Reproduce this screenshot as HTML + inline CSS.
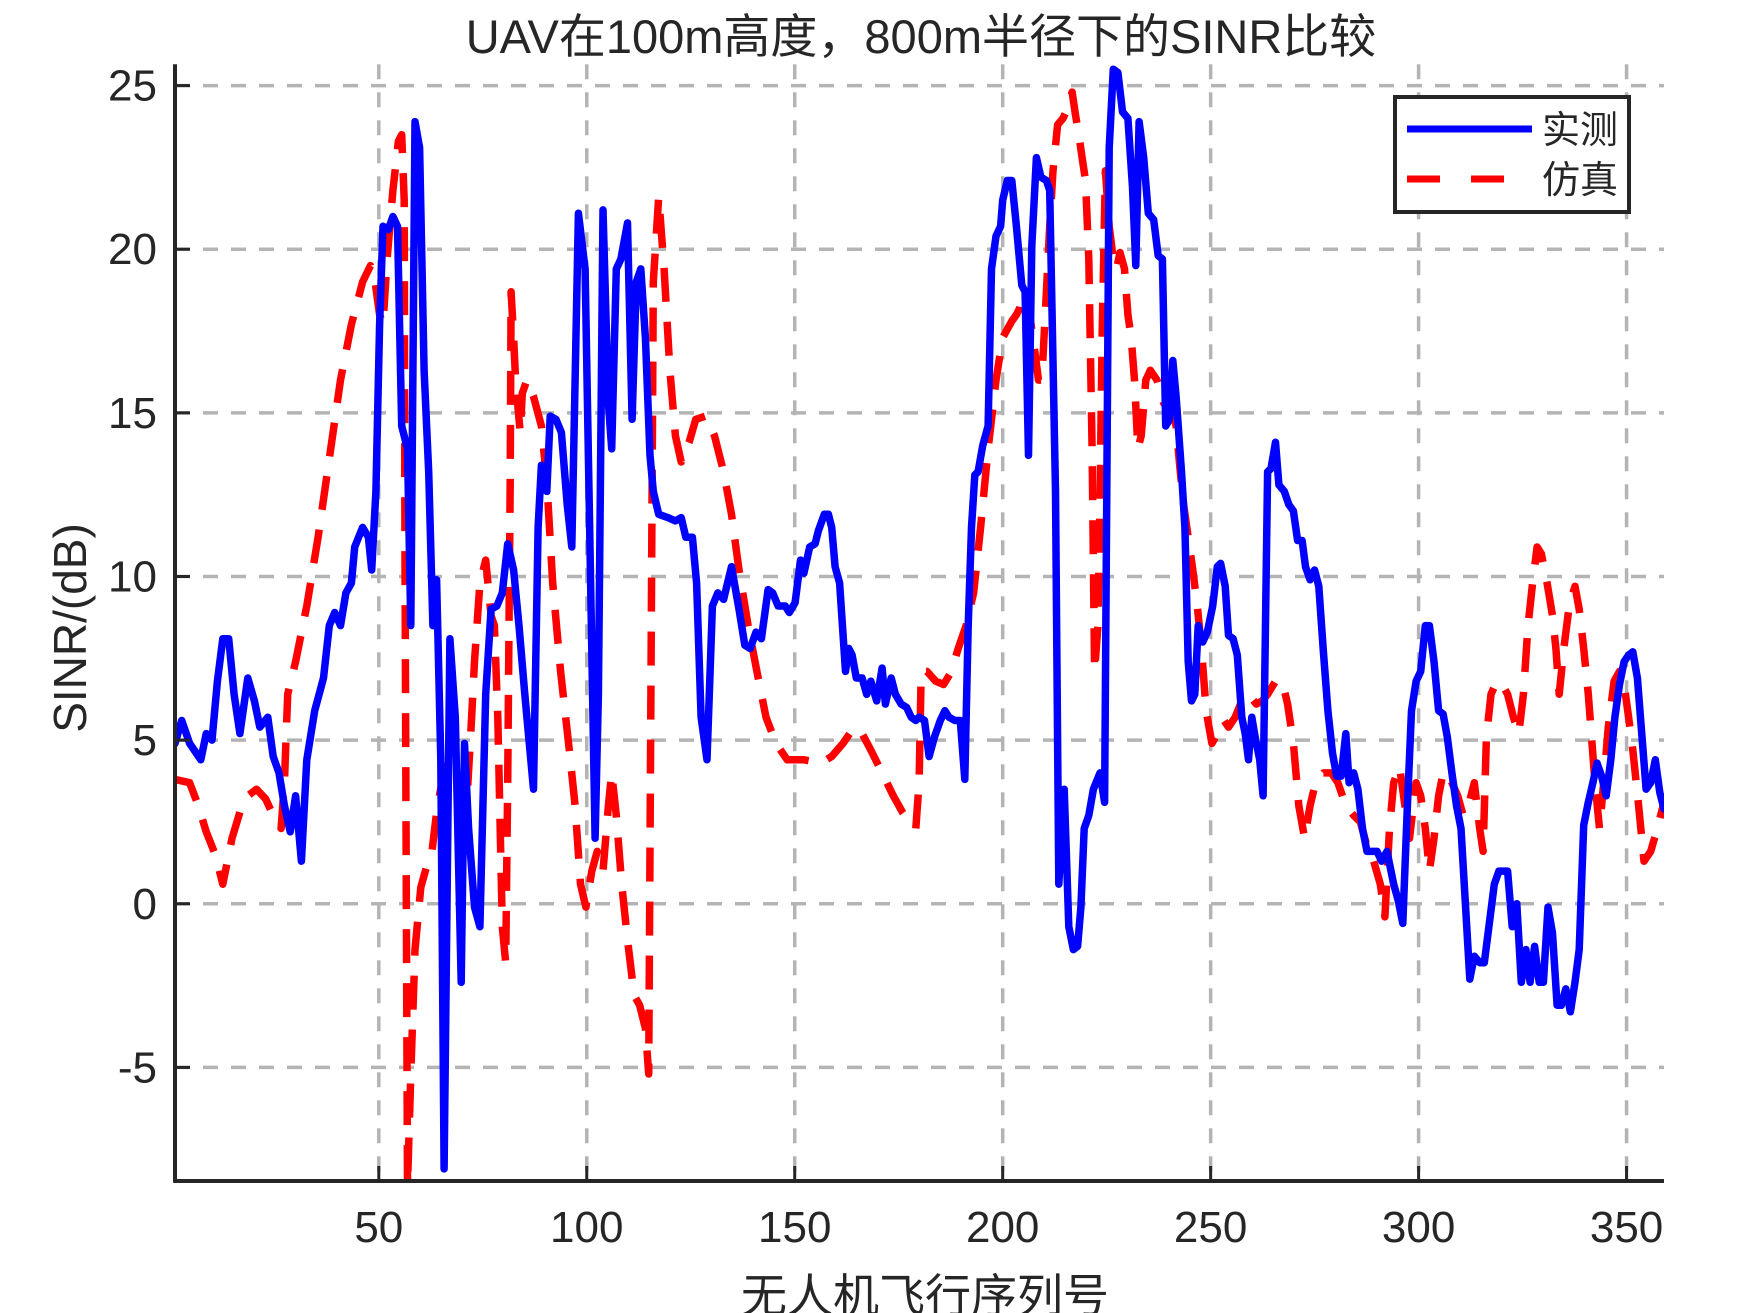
<!DOCTYPE html>
<html>
<head>
<meta charset="utf-8">
<style>
html,body{margin:0;padding:0;background:#fff;}
svg{display:block;}
text{font-family:"Liberation Sans","Noto Sans CJK SC",sans-serif;fill:#262626;}
</style>
</head>
<body>
<svg id="chart" width="1750" height="1313" viewBox="0 0 1750 1313" xmlns="http://www.w3.org/2000/svg">
  <defs>
    <clipPath id="plotclip"><rect x="175" y="60" width="1489" height="1121"/></clipPath>
  </defs>
  <rect x="0" y="0" width="1750" height="1313" fill="#fff"/>
  <g id="grid"></g>
  <g id="series" clip-path="url(#plotclip)"></g>
  <g id="axes"></g>
  <text x="921" y="53" font-size="47" text-anchor="middle">UAV在100m高度，800m半径下的SINR比较</text>
  <text x="925" y="1312" font-size="46" text-anchor="middle">无人机飞行序列号</text>
  <text transform="translate(86,628) rotate(-90)" font-size="46" text-anchor="middle">SINR/(dB)</text>
  <g>
    <rect x="1395" y="97" width="234" height="115" fill="#fff" stroke="#262626" stroke-width="4"/>
    <line x1="1407" y1="129" x2="1532" y2="129" stroke="#0000ff" stroke-width="7"/>
    <text x="1542" y="143" font-size="38">实测</text>
    <line x1="1407" y1="179" x2="1532" y2="179" stroke="#ff0000" stroke-width="7" stroke-dasharray="33 31"/>
    <text x="1542" y="193" font-size="38">仿真</text>
  </g>
</svg>
<script>
const xTicks = [50,100,150,200,250,300,350];
const yTicks = [-5,0,5,10,15,20,25];
const xTickLabels = ["50","100","150","200","250","300","350"];
const yTickLabels = ["-5","0","5","10","15","20","25"];

const measuredX = [1,2.6,4.5,7.2,8.5,9.9,11.2,12.5,13.9,15.2,16.6,18.5,20.1,21.4,23.3,24.6,26,27.3,28.7,30,31.4,32.7,34.6,36.7,38.1,39.4,40.8,42.1,43.4,44.2,46.1,47.5,48.3,49.3,50.2,51,52.3,53.4,54.5,55.5,56.9,57.7,58.7,59.8,60.9,62,63,63.9,64.9,65.7,67.1,68.4,69.8,70.6,71.6,73,74.3,75.7,77,78.4,79.7,81,82.4,83.7,85.1,87.2,88.3,89.1,90.4,91.2,92.6,93.9,95.3,96.4,98,99.6,102,102.8,103.9,105.2,106,107.1,108.2,109.8,110.9,111.9,113,114.1,115.2,116,117.3,119.5,121.3,122.7,123.8,125.4,126.4,127.5,128.9,130.2,131.5,132.9,134.8,136.6,138,139.3,140.7,142,143.6,144.7,146,147.7,148.7,150.1,151.4,152.2,153.6,154.9,155.7,157.1,158.1,158.9,159.7,160.8,162.2,163,163.8,164.8,166.2,167.3,168.3,169.7,171,171.8,173.2,174.2,175.6,176.9,178,179.1,179.9,181.2,182.3,183.6,185,186.1,187.1,188.5,189.8,190.9,191.7,192.5,193.3,194.1,195.2,196.5,197.3,198.4,199.5,200,201.1,202.2,203.3,204.6,205.4,206.2,207,208.1,209.2,210.5,211.3,212.7,213.5,214.8,215.9,217,218,218.8,219.6,220.7,221.8,223.4,224.5,225.6,226.6,227.7,228.8,230.1,231.2,232,232.8,233.9,235,236.3,237.4,238.4,239.2,240.1,240.9,241.7,243,243.8,244.6,245.4,246.2,247,248.1,249.2,250.5,251.6,252.4,253.5,254.3,255.4,256.4,257.5,258.3,259.1,259.9,260.7,261.8,262.6,263.7,264.5,265.6,266.4,267.7,268.8,269.9,270.9,272,272.8,273.9,275,276,277.1,278.2,279.3,280.3,281.4,282.5,283.3,284.4,285.4,286.5,287.6,288.7,290,291.1,292.4,294,295.1,296.2,297.3,298.3,299.4,300.5,301.6,302.6,303.7,304.8,305.9,306.9,308,309.1,310.2,311.2,312.3,313.4,314.7,315.8,316.9,318.2,319.3,320.4,321.4,322.5,323.6,324.7,325.8,326.8,327.9,329,330,331.1,332.2,333.3,334.3,335.4,336.5,337.6,338.6,339.7,340.8,341.9,342.9,344,345.1,346.2,347.2,348.3,349.4,350.5,351.5,352.6,353.7,354.7,355.8,356.9,358,359];
const measuredY = [4.9,5.6,4.9,4.4,5.2,5.0,6.8,8.1,8.1,6.4,5.2,6.9,6.2,5.4,5.7,4.5,4.0,3.0,2.2,3.3,1.3,4.4,5.9,6.9,8.5,8.9,8.5,9.5,9.8,10.9,11.5,11.2,10.2,12.6,17.7,20.7,20.6,21.0,20.7,14.6,13.9,8.5,23.9,23.1,16.3,13.2,8.5,9.9,4.4,-8.1,8.1,5.7,-2.4,4.9,2.3,-0.1,-0.7,6.4,9.0,9.1,9.5,11.0,10.2,8.5,6.4,3.5,11.5,13.4,12.6,14.9,14.8,14.4,12.2,10.9,21.1,19.4,2.0,6.4,21.2,15.3,13.9,19.4,19.7,20.8,14.8,19.0,19.4,17.3,13.7,12.6,11.9,11.8,11.7,11.8,11.2,11.2,9.8,5.7,4.4,9.1,9.5,9.3,10.3,9.0,7.9,7.8,8.3,8.1,9.6,9.5,9.1,9.1,8.9,9.2,10.5,10.1,10.9,11.0,11.4,11.9,11.9,11.5,10.3,9.8,7.1,7.8,7.6,6.9,6.9,6.4,6.8,6.2,7.2,6.1,6.9,6.4,6.1,6.0,5.7,5.6,5.7,5.6,4.5,5.1,5.6,5.9,5.7,5.6,5.6,3.8,8.5,11.5,13.1,13.2,14.0,14.6,19.4,20.4,20.7,21.5,22.1,22.1,20.7,18.9,18.7,13.7,20.1,22.8,22.2,22.1,21.8,12.6,0.6,3.5,-0.7,-1.4,-1.3,-0.1,2.3,2.7,3.5,4.0,3.1,23.1,25.5,25.4,24.2,24.0,21.9,19.5,23.9,22.8,21.1,20.9,19.8,19.7,14.6,14.8,16.6,15.5,13.2,11.5,7.4,6.2,6.4,8.5,8.0,8.3,9.1,10.3,10.4,9.7,8.2,8.1,7.6,5.7,5.2,4.4,5.7,5.1,4.4,3.3,13.2,13.3,14.1,12.8,12.6,12.2,12.0,11.1,11.1,10.3,9.9,10.2,9.7,7.7,5.9,4.6,3.9,3.9,5.2,3.7,4.0,3.5,2.3,1.6,1.6,1.6,1.3,1.6,0.6,0.1,-0.6,3.0,5.9,6.8,7.1,8.5,8.5,7.4,5.9,5.8,5.1,4.0,3.0,2.3,0.1,-2.3,-1.6,-1.8,-1.8,-0.7,0.6,1.0,1.0,1.0,-0.7,0.0,-2.4,-1.4,-2.4,-1.3,-2.4,-2.4,-0.1,-0.9,-3.1,-3.1,-2.6,-3.3,-2.4,-1.4,2.4,3.1,3.7,4.3,3.9,3.3,4.4,5.7,6.7,7.4,7.6,7.7,6.9,5.1,3.5,3.7,4.4,3.4,2.9];

const simX = [1,4.5,6.6,8.5,10.7,12.5,14.7,16.6,18.5,20.6,22.8,24.6,26.5,27.3,28.1,30,32.7,35.4,38.1,40.8,43.4,46.1,48,49.1,50.2,51,52,53.4,54.7,55.5,56.1,56.3,56.6,56.9,57.7,58.7,60.1,61.4,62.8,64.1,65.5,67.1,68.4,69.8,71.1,72.2,73,74.3,75.7,77,77.8,78.6,79.7,80.5,81,81.6,81.8,82.4,82.9,84,84.5,85.6,87.2,89.1,90.4,91.8,93.7,95.8,97.2,98.5,99.8,101.2,102.5,103.9,105.2,106,107.1,108.4,109.8,111.4,112.7,114.1,114.9,115.4,116,117.3,118.6,120,121.3,122.7,124.6,126.2,128.6,130.7,132.9,134.8,136.6,138.8,140.9,143.1,145.5,148.2,152.2,156.3,158.9,161.6,164.3,166.2,168.3,171,173.7,175.9,177.7,179.1,179.9,180.4,181.8,183.9,185.8,187.7,189.3,191.2,193,194.7,196.5,198.4,200,202.2,203.3,204.1,204.9,206,207.3,208.6,209.4,210.5,211.3,212.1,213.2,214.5,215.6,216.7,217.5,218.3,219.1,219.9,220.7,221.5,222.1,222.9,223.4,223.9,224.7,225.6,226.6,227.4,228.2,229.3,230.1,230.9,231.7,232.5,233.3,234.4,235.5,237.1,238.7,240.3,241.7,242.7,243.5,244.6,245.7,246.8,247.8,248.9,250.3,251.6,253.2,254.3,255.9,257.5,259.1,261,262.4,263.7,265.6,267.2,268.5,269.9,271.2,272.6,273.9,275.2,277.1,279,280.6,282.5,284.4,286,287.9,289.2,290.8,291.9,293,294,295.4,296.7,297.8,299.4,300.5,301.6,302.6,303.7,304.8,305.9,306.9,308,309.4,310.7,312,313.4,314.7,315.5,316.3,317.4,318.8,320.1,321.4,322.8,324.1,325.2,326.3,327.4,328.5,329.5,330.9,332.2,333,333.8,334.9,336.2,337.6,338.6,339.7,340.8,342.4,343.5,344.5,345.6,347,348.3,349.4,350.5,351.5,352.9,354.2,355.8,357.4,359];
const simY = [3.8,3.7,3.0,2.2,1.5,0.6,2.0,2.8,3.3,3.5,3.2,2.7,2.3,3.7,6.4,7.4,9.1,11.2,13.6,16.0,17.7,19.0,19.5,19.0,18.0,17.7,19.7,21.8,23.3,23.5,21.5,10.5,0.3,-8.6,-5.2,-1.4,0.5,1.1,1.6,3.0,3.9,4.4,4.2,3.9,3.0,5.4,7.4,9.8,10.5,8.8,8.5,5.7,-0.7,-1.8,3.7,12.9,18.7,17.3,16.0,14.4,15.6,16.0,15.5,14.6,12.9,9.8,7.1,4.7,3.0,0.6,-0.1,1.0,1.6,1.0,3.0,4.0,2.7,0.6,-1.1,-2.8,-3.1,-3.8,-5.2,5.9,19.0,21.6,19.4,16.3,14.3,13.5,14.1,14.8,14.9,14.3,13.2,11.9,10.2,8.5,7.1,5.7,4.9,4.4,4.4,4.3,4.5,4.9,5.4,5.2,4.7,4.0,3.3,2.8,2.5,2.3,3.7,7.1,7.1,6.8,6.7,7.1,7.8,8.5,9.5,11.5,13.9,16.0,17.3,17.8,18.0,18.2,18.7,18.4,17.3,16.0,16.0,18.7,20.7,22.4,23.8,24.0,24.3,24.8,24.1,23.5,22.8,22.1,19.7,13.9,7.1,8.5,12.2,17.3,22.4,20.7,19.7,19.4,19.9,19.4,18.0,17.3,16.0,13.9,14.3,16.0,16.3,16.0,15.3,15.3,14.6,13.2,12.2,11.2,10.2,9.1,7.8,5.9,4.9,5.2,5.6,5.4,5.7,6.2,6.4,6.1,6.2,6.4,6.8,6.8,6.1,4.9,3.0,2.0,3.0,3.7,4.0,4.0,3.7,3.0,2.7,2.5,1.6,1.3,0.6,-0.4,2.3,3.7,4.2,3.0,2.0,3.7,3.3,2.3,1.0,2.0,3.3,4.0,4.0,3.7,3.3,2.7,3.0,3.7,2.3,1.6,5.1,6.4,6.8,6.7,6.4,5.7,5.2,6.4,8.5,9.8,10.9,10.7,9.8,8.8,7.8,6.4,7.8,9.1,9.7,9.0,7.8,6.4,3.7,2.3,3.7,5.4,6.8,7.1,6.7,5.7,4.7,3.0,1.3,1.6,2.3,3.1];

const X0 = 175, X1 = 1664, Y0 = 1181, Y1 = 64.3;
const XMIN = 1, XMAX = 359, YMIN = -8.47, YMAX = 25.65;
function sx(v){ return X0 + (v - XMIN) / (XMAX - XMIN) * (X1 - X0); }
function sy(v){ return Y0 - (v - YMIN) / (YMAX - YMIN) * (Y0 - Y1); }

const NS = "http://www.w3.org/2000/svg";
function mk(tag, attrs){ const e = document.createElementNS(NS, tag); for (const k in attrs) e.setAttribute(k, attrs[k]); return e; }

const grid = document.getElementById('grid');
const axes = document.getElementById('axes');
const series = document.getElementById('series');

xTicks.forEach((t, i) => {
  const g = mk('line', {x1: sx(t), x2: sx(t), y1: Y1, y2: Y0, stroke: '#b4b4b4', 'stroke-width': 3.5, 'stroke-dasharray': '15 13'});
  
  
  grid.appendChild(g);
  const tk = mk('line', {x1: sx(t), x2: sx(t), y1: Y0, y2: Y0 - 15, stroke: '#262626', 'stroke-width': 3});
  
  
  axes.appendChild(tk);
  const lb = mk('text', {x: sx(t), y: 1242, 'font-size': 44, 'text-anchor': 'middle'});
  lb.textContent = xTickLabels[i];
  
  
  axes.appendChild(lb);
});
yTicks.forEach((t, i) => {
  const g = mk('line', {x1: X0, x2: X1, y1: sy(t), y2: sy(t), stroke: '#b4b4b4', 'stroke-width': 3.5, 'stroke-dasharray': '15 13'});
  
  
  grid.appendChild(g);
  const tk = mk('line', {x1: X0, x2: X0 + 15, y1: sy(t), y2: sy(t), stroke: '#262626', 'stroke-width': 3});
  
  
  axes.appendChild(tk);
  const lb = mk('text', {x: 157, y: sy(t) + 15, 'font-size': 44, 'text-anchor': 'end'});
  lb.textContent = yTickLabels[i];
  
  
  axes.appendChild(lb);
});
const ya = mk('line', {x1: X0, x2: X0, y1: Y1, y2: Y0 + 1.5, stroke: '#262626', 'stroke-width': 4});


axes.appendChild(ya);
const xa = mk('line', {x1: X0 - 1.5, x2: X1, y1: Y0, y2: Y0, stroke: '#262626', 'stroke-width': 4});


axes.appendChild(xa);

function pathFrom(xs, ys){ return xs.map((x, i) => (i ? 'L' : 'M') + sx(x).toFixed(1) + ',' + sy(ys[i]).toFixed(1)).join(' '); }
const sim = mk('path', {d: pathFrom(simX, simY), fill: 'none', stroke: '#ff0000', 'stroke-width': 7.5, 'stroke-dasharray': '34 20', 'stroke-linejoin': 'round'});


series.appendChild(sim);
const meas = mk('path', {d: pathFrom(measuredX, measuredY), fill: 'none', stroke: '#0000ff', 'stroke-width': 7.5, 'stroke-linejoin': 'round', 'stroke-linecap': 'round'});


series.appendChild(meas);
</script>
</body>
</html>
